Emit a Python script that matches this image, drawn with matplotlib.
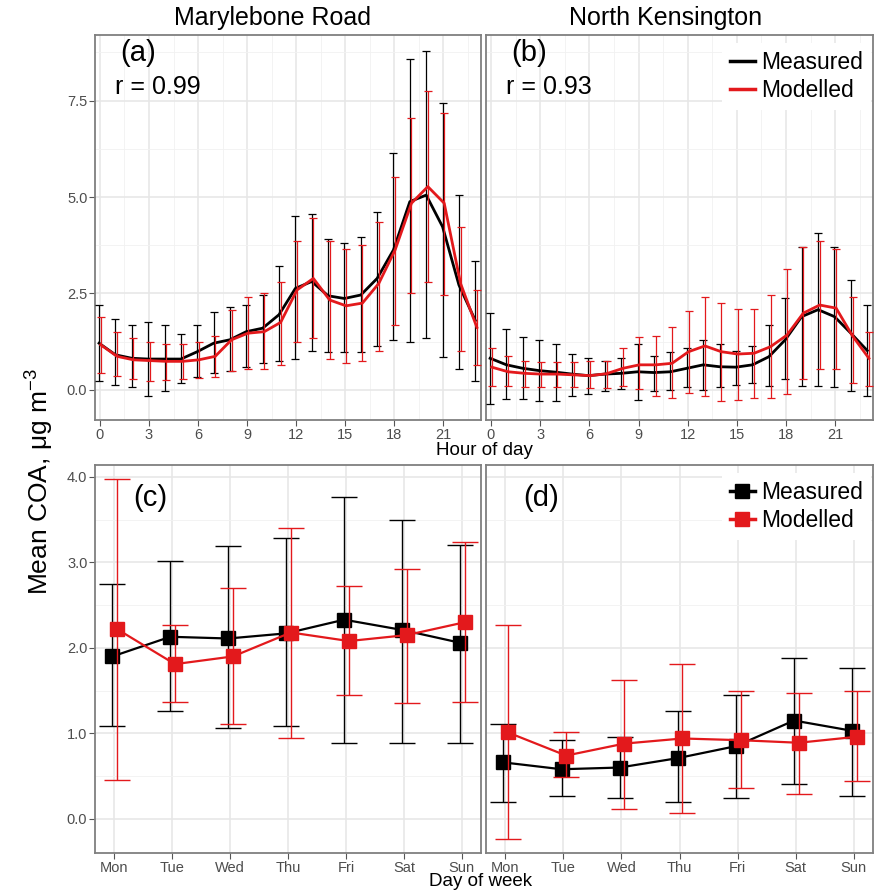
import numpy as np
import matplotlib
matplotlib.use("Agg")
import matplotlib.pyplot as plt
from matplotlib.lines import Line2D

plt.rcParams['font.family'] = ['Liberation Sans', 'DejaVu Sans']
plt.rcParams['mathtext.fontset'] = 'custom'
plt.rcParams['mathtext.rm'] = 'Liberation Sans'
plt.rcParams['mathtext.default'] = 'regular'

RED = '#e3191c'
GRID = '#e6e6e6'
TICKC = '#4d4d4d'

# hourly data
hours = np.arange(24)

mb_meas = [1.21, 0.91, 0.82, 0.80, 0.80, 0.80, 0.99, 1.21, 1.30, 1.51, 1.60, 1.95,
           2.63, 2.81, 2.44, 2.37, 2.46, 2.89, 3.63, 4.88, 5.05, 4.23, 2.72, 1.80]
mb_meas_hi = [2.20, 1.83, 1.67, 1.77, 1.67, 1.45, 1.67, 2.03, 2.14, 2.20, 2.46, 3.22,
              4.51, 4.56, 3.90, 3.82, 3.96, 4.60, 6.15, 8.57, 8.78, 7.45, 5.05, 3.34]
mb_meas_lo = [0.22, 0.13, 0.07, -0.16, -0.04, 0.17, 0.33, 0.43, 0.50, 0.59, 0.71, 0.75,
              0.80, 1.02, 0.97, 0.97, 0.97, 1.14, 1.30, 1.24, 1.34, 0.86, 0.54, 0.22]
mb_mod = [1.17, 0.87, 0.78, 0.76, 0.74, 0.74, 0.78, 0.87, 1.30, 1.47, 1.51, 1.75,
          2.59, 2.89, 2.33, 2.18, 2.25, 2.76, 3.63, 4.84, 5.27, 4.84, 2.76, 1.62]
mb_mod_hi = [1.90, 1.51, 1.34, 1.24, 1.18, 1.18, 1.24, 1.40, 2.08, 2.42, 2.51, 2.79,
             3.86, 4.45, 3.87, 3.65, 3.76, 4.34, 5.53, 7.06, 7.76, 7.19, 4.23, 2.59]
mb_mod_lo = [0.45, 0.35, 0.28, 0.22, 0.26, 0.28, 0.30, 0.33, 0.50, 0.54, 0.54, 0.64,
             1.24, 1.34, 0.80, 0.71, 0.75, 1.02, 1.67, 2.52, 2.79, 2.46, 1.02, 0.64]

nk_meas = [0.82, 0.65, 0.56, 0.50, 0.46, 0.41, 0.37, 0.41, 0.43, 0.47, 0.45, 0.47,
           0.56, 0.65, 0.60, 0.59, 0.65, 0.86, 1.30, 1.90, 2.08, 1.90, 1.47, 1.02]
nk_meas_hi = [2.00, 1.57, 1.36, 1.30, 1.19, 0.93, 0.82, 0.76, 0.82, 1.19, 0.88, 0.98,
              1.08, 1.30, 1.19, 1.02, 1.14, 1.68, 2.37, 3.71, 4.08, 3.70, 2.85, 2.20]
nk_meas_lo = [-0.36, -0.24, -0.24, -0.30, -0.30, -0.16, -0.10, -0.04, 0.02, -0.26, -0.02, 0.00,
              0.07, 0.00, 0.07, 0.13, 0.17, 0.10, 0.28, 0.10, 0.10, 0.07, -0.04, -0.16]
nk_mod = [0.59, 0.47, 0.43, 0.41, 0.41, 0.39, 0.37, 0.42, 0.56, 0.65, 0.65, 0.69,
          0.99, 1.14, 0.99, 0.93, 0.95, 1.12, 1.42, 1.99, 2.20, 2.12, 1.40, 0.82]
nk_mod_hi = [1.08, 0.88, 0.76, 0.72, 0.72, 0.72, 0.76, 0.76, 1.08, 1.36, 1.40, 1.62,
             2.05, 2.42, 2.26, 2.09, 2.09, 2.46, 3.13, 3.71, 3.87, 3.64, 2.42, 1.51]
nk_mod_lo = [0.10, 0.09, 0.07, 0.07, 0.07, 0.07, 0.04, 0.04, 0.09, 0.02, -0.16, -0.22,
             -0.09, -0.16, -0.30, -0.26, -0.22, -0.22, -0.10, 0.28, 0.54, 0.54, 0.17, 0.10]

# day of week data
days = ['Mon', 'Tue', 'Wed', 'Thu', 'Fri', 'Sat', 'Sun']

mb_day_meas = [1.90, 2.13, 2.11, 2.17, 2.33, 2.21, 2.06]
mb_day_meas_hi = [2.75, 3.02, 3.19, 3.28, 3.76, 3.50, 3.20]
mb_day_meas_lo = [1.09, 1.26, 1.06, 1.09, 0.89, 0.89, 0.89]
mb_day_mod = [2.22, 1.81, 1.90, 2.18, 2.08, 2.15, 2.30]
mb_day_mod_hi = [3.98, 2.27, 2.70, 3.40, 2.73, 2.92, 3.24]
mb_day_mod_lo = [0.46, 1.37, 1.11, 0.94, 1.45, 1.35, 1.37]

nk_day_meas = [0.66, 0.58, 0.60, 0.71, 0.85, 1.15, 1.03]
nk_day_meas_hi = [1.11, 0.92, 0.96, 1.26, 1.45, 1.88, 1.76]
nk_day_meas_lo = [0.20, 0.27, 0.24, 0.20, 0.24, 0.41, 0.27]
nk_day_mod = [1.01, 0.74, 0.88, 0.94, 0.92, 0.89, 0.96]
nk_day_mod_hi = [2.27, 1.01, 1.62, 1.81, 1.50, 1.47, 1.50]
nk_day_mod_lo = [-0.24, 0.49, 0.12, 0.07, 0.36, 0.29, 0.44]


def yerr(mean, lo, hi):
    m = np.array(mean)
    return [m - np.array(lo), np.array(hi) - m]


def style(ax):
    ax.set_facecolor('white')
    for s in ax.spines.values():
        s.set_color('#7f7f7f')
        s.set_linewidth(1.3)
    ax.grid(True, which='major', color=GRID, lw=1.1, zorder=0)
    ax.grid(True, which='minor', color='#f1f1f1', lw=0.6, zorder=0)
    ax.set_axisbelow(True)
    ax.tick_params(which='major', length=4, color='#555555', labelsize=10.5,
                   labelcolor=TICKC, pad=1.5)
    ax.tick_params(which='minor', length=0)


def add_legend(ax, handles):
    # white box in the upper right corner, text a little below the top edge
    lg = ax.legend(handles, ['Measured', 'Modelled'], loc='upper right',
                   bbox_to_anchor=(1.0, 0.985), fontsize=16.5, frameon=True,
                   facecolor='white', edgecolor='none', framealpha=1, fancybox=False,
                   handlelength=1.1, handletextpad=0.25, labelspacing=0.2,
                   borderaxespad=0.1, borderpad=0.35)
    lg.set_zorder(5)


fig = plt.figure(figsize=(8.9, 8.91), dpi=100)
W, H = 890.0, 891.0
ax_a = fig.add_axes([95 / W, 1 - 420 / H, 386 / W, 385 / H])
ax_b = fig.add_axes([486 / W, 1 - 420 / H, 387 / W, 385 / H])
ax_c = fig.add_axes([95 / W, 1 - 853 / H, 386 / W, 388 / H])
ax_d = fig.add_axes([486 / W, 1 - 853 / H, 387 / W, 388 / H])

# hourly panels
for ax, meas, mlo, mhi, mod, dlo, dhi in [
        (ax_a, mb_meas, mb_meas_lo, mb_meas_hi, mb_mod, mb_mod_lo, mb_mod_hi),
        (ax_b, nk_meas, nk_meas_lo, nk_meas_hi, nk_mod, nk_mod_lo, nk_mod_hi)]:
    style(ax)
    ax.errorbar(hours - 0.05, meas, yerr=yerr(meas, mlo, mhi), color='black',
                lw=2.0, elinewidth=0.9, capsize=3, capthick=0.9, zorder=3)
    ax.errorbar(hours + 0.05, mod, yerr=yerr(mod, dlo, dhi), color=RED,
                lw=2.0, elinewidth=0.9, capsize=3, capthick=0.9, zorder=4)
    ax.set_xlim(-0.3, 23.3)
    ax.set_ylim(-0.78, 9.2)
    ax.set_xticks(np.arange(0, 24, 3))
    ax.set_xticks(np.arange(1.5, 24, 3), minor=True)
    ax.set_yticks([0, 2.5, 5.0, 7.5])
    ax.set_yticks([1.25, 3.75, 6.25, 8.75], minor=True)
    ax.set_yticklabels(['0.0', '2.5', '5.0', '7.5'])

ax_b.tick_params(axis='y', which='both', length=0, labelleft=False)

ax_a.text(0.065, 0.99, '(a)', transform=ax_a.transAxes, fontsize=21,
          va='top', ha='left')
ax_a.text(0.052, 0.895, 'r = 0.99', transform=ax_a.transAxes, fontsize=18,
          va='top', ha='left')
ax_b.text(0.065, 0.99, '(b)', transform=ax_b.transAxes, fontsize=21,
          va='top', ha='left')
ax_b.text(0.052, 0.895, 'r = 0.93', transform=ax_b.transAxes, fontsize=18,
          va='top', ha='left')

add_legend(ax_b, [Line2D([], [], color='black', lw=2.5),
                  Line2D([], [], color=RED, lw=2.5)])

# day of week panels
xd = np.arange(1, 8)
for ax, meas, mlo, mhi, mod, dlo, dhi in [
        (ax_c, mb_day_meas, mb_day_meas_lo, mb_day_meas_hi, mb_day_mod, mb_day_mod_lo, mb_day_mod_hi),
        (ax_d, nk_day_meas, nk_day_meas_lo, nk_day_meas_hi, nk_day_mod, nk_day_mod_lo, nk_day_mod_hi)]:
    style(ax)
    ax.errorbar(xd - 0.03, meas, yerr=yerr(meas, mlo, mhi), color='black',
                lw=1.6, elinewidth=1.0, capsize=9.5, capthick=1.0,
                marker='s', markersize=9.5, zorder=3)
    ax.errorbar(xd + 0.05, mod, yerr=yerr(mod, dlo, dhi), color=RED,
                lw=1.6, elinewidth=1.0, capsize=9.5, capthick=1.0,
                marker='s', markersize=9.5, zorder=4)
    ax.set_xlim(0.67, 7.33)
    ax.set_ylim(-0.40, 4.14)
    ax.set_xticks(xd)
    ax.set_xticklabels(days)
    ax.set_yticks([0, 1, 2, 3, 4])
    ax.set_yticks([0.5, 1.5, 2.5, 3.5], minor=True)
    ax.set_yticklabels(['0.0', '1.0', '2.0', '3.0', '4.0'])

ax_d.tick_params(axis='y', which='both', length=0, labelleft=False)

ax_c.text(0.098, 0.95, '(c)', transform=ax_c.transAxes, fontsize=21,
          va='top', ha='left')
ax_d.text(0.096, 0.95, '(d)', transform=ax_d.transAxes, fontsize=21,
          va='top', ha='left')

add_legend(ax_d, [Line2D([], [], color='black', lw=2.5, marker='s', markersize=10),
                  Line2D([], [], color=RED, lw=2.5, marker='s', markersize=10)])

# titles and axis labels
fig.text(272 / W, 1 - 18 / H, 'Marylebone Road', ha='center', va='center', fontsize=18)
fig.text(666 / W, 1 - 18 / H, 'North Kensington', ha='center', va='center', fontsize=18)
fig.text(484 / W, 1 - 450 / H, 'Hour of day', ha='center', va='center', fontsize=13.5)
fig.text(481 / W, 1 - 882 / H, 'Day of week', ha='center', va='center', fontsize=13.5)
fig.text(40 / W, 1 - 482 / H, 'Mean COA, μg m$^{-3}$', ha='center', va='center',
         rotation=90, fontsize=19)

fig.savefig('out.png', dpi=100)
